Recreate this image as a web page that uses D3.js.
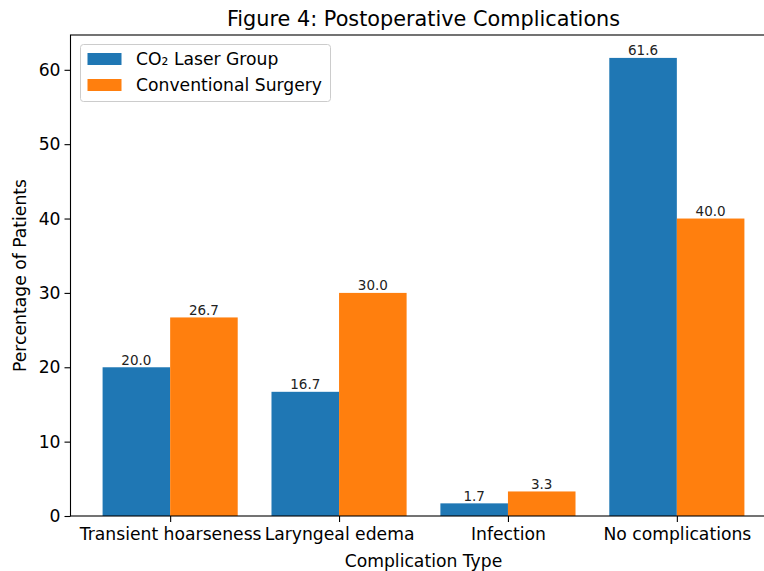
<!DOCTYPE html>
<html>
<head>
<meta charset="utf-8">
<script src="https://cdn.jsdelivr.net/npm/d3@7"></script>
<style>
  body { margin: 0; background: #fff; }
  svg { display: block; font-family: "DejaVu Sans", sans-serif; }
</style>
</head>
<body>
<svg id="chart" width="764" height="571"></svg>
<script>
const categories = ['Transient hoarseness', 'Laryngeal edema', 'Infection', 'No complications'];
const laserValues = [20.0, 16.7, 1.7, 61.6];
const conventionalValues = [26.7, 30.0, 3.3, 40.0];
const seriesNames = ['CO\u2082 Laser Group', 'Conventional Surgery'];
const seriesColors = ['#1f77b4', '#ff7f0e'];
const yTicks = [0, 10, 20, 30, 40, 50, 60];

const margin = { left: 70.5, right: 776.5, top: 35, bottom: 516 };
const barW = 0.4;
const fs = 17.2;

const svg = d3.select('#chart');

// matplotlib style: linear x over category index, with 5% margins
const x = d3.scaleLinear()
  .domain([-0.59, 3.59])
  .range([margin.left, margin.right]);
const y = d3.scaleLinear()
  .domain([0, 64.68])
  .range([margin.bottom, margin.top]);

const series = [laserValues, conventionalValues];

series.forEach((vals, s) => {
  const off = s === 0 ? -barW : 0;
  const g = svg.append('g');
  g.selectAll('rect')
    .data(vals)
    .enter()
    .append('rect')
      .attr('x', (d, i) => x(i + off))
      .attr('width', (d, i) => x(i + off + barW) - x(i + off))
      .attr('y', d => y(d))
      .attr('height', d => y(0) - y(d))
      .attr('fill', seriesColors[s]);
  g.selectAll('text')
    .data(vals)
    .enter()
    .append('text')
      .attr('x', (d, i) => x(i + off + barW / 2))
      .attr('y', d => y(d) - 2.5)
      .attr('text-anchor', 'middle')
      .attr('font-size', 13.5)
      .attr('fill', '#222')
      .text(d => d.toFixed(1));
});

// axes
const yAxis = svg.append('g')
  .attr('transform', `translate(${margin.left},0)`)
  .call(d3.axisLeft(y).tickValues(yTicks).tickSize(6).tickPadding(4));
const xAxis = svg.append('g')
  .attr('transform', `translate(0,${margin.bottom})`)
  .call(d3.axisBottom(x).tickValues(d3.range(categories.length))
    .tickFormat(i => categories[i]).tickSize(6).tickPadding(6));

[yAxis, xAxis].forEach(a => {
  a.select('.domain').remove();
  a.selectAll('line').attr('stroke', '#000').attr('stroke-width', 1.1);
  a.selectAll('text').attr('font-size', fs).attr('fill', '#000')
    .attr('font-family', '"DejaVu Sans", sans-serif');
});

// spines
svg.append('rect')
  .attr('x', margin.left)
  .attr('y', margin.top)
  .attr('width', margin.right - margin.left)
  .attr('height', margin.bottom - margin.top)
  .attr('fill', 'none')
  .attr('stroke', '#000')
  .attr('stroke-width', 1.1);

// title and axis labels
svg.append('text')
  .attr('x', (margin.left + margin.right) / 2)
  .attr('y', 26)
  .attr('text-anchor', 'middle')
  .attr('font-size', 20.8)
  .text('Figure 4: Postoperative Complications');

svg.append('text')
  .attr('x', (margin.left + margin.right) / 2)
  .attr('y', 567)
  .attr('text-anchor', 'middle')
  .attr('font-size', fs)
  .text('Complication Type');

svg.append('text')
  .attr('transform', `translate(26,${(margin.top + margin.bottom) / 2}) rotate(-90)`)
  .attr('text-anchor', 'middle')
  .attr('font-size', fs)
  .text('Percentage of Patients');

// legend
const legend = svg.append('g').attr('transform', 'translate(80.5,44.5)');
legend.append('rect')
  .attr('width', 250).attr('height', 57).attr('rx', 3)
  .attr('fill', '#fff').attr('fill-opacity', 0.8)
  .attr('stroke', '#ccc').attr('stroke-width', 1);
seriesNames.forEach((name, i) => {
  legend.append('rect')
    .attr('x', 7).attr('y', 8.5 + i * 26)
    .attr('width', 34).attr('height', 12)
    .attr('fill', seriesColors[i]);
  legend.append('text')
    .attr('x', 55.5).attr('y', 20.5 + i * 26)
    .attr('font-size', fs)
    .text(name);
});
</script>
</body>
</html>
